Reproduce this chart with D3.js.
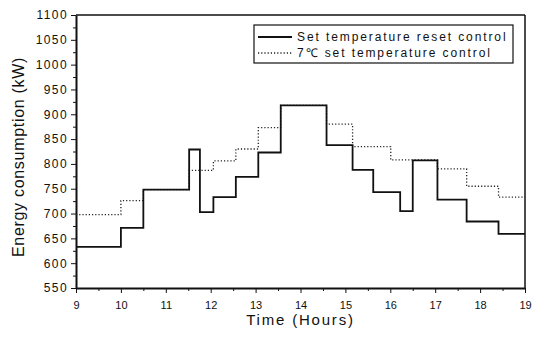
<!DOCTYPE html>
<html>
<head>
<meta charset="utf-8">
<script src="https://cdn.jsdelivr.net/npm/d3@7"></script>
<style>
  body { margin: 0; background: #fff; }
  svg { display: block; font-family: "Liberation Sans", Arial, Helvetica, sans-serif; }
  .axis path, .axis line { stroke: #111; }
</style>
</head>
<body>
<div id="chart"></div>
<script>
// step change times (hours) and the level that starts at each time
var resetTimes  = [9, 10, 10.5, 11.52, 11.76, 12.06, 12.56, 13.06, 13.56, 14.58, 15.16, 15.62, 16.22, 16.5, 17.05, 17.7, 18.41, 19];
var resetValues = [633, 671, 748, 829, 703, 733, 774, 823, 918, 838, 788, 743, 705, 807, 728, 684, 659, 659];

var fixedTimes  = [9, 10, 10.5, 11.52, 12.06, 12.56, 13.06, 13.56, 14.58, 15.16, 16.01, 17.05, 17.7, 18.41, 19];
var fixedValues = [698, 726, 748, 787, 806, 830, 873, 918, 880, 835, 808, 790, 755, 733, 733];

var xTicks = [9, 10, 11, 12, 13, 14, 15, 16, 17, 18, 19];
var yTicks = [550, 600, 650, 700, 750, 800, 850, 900, 950, 1000, 1050, 1100];
var seriesNames = ["Set temperature reset control", "7\u2103 set temperature control"];

var W = 540, H = 339;
var margin = { left: 76, right: 15, top: 15, bottom: 51 };
var width = W - margin.left - margin.right;
var height = H - margin.top - margin.bottom;

var svg = d3.select("#chart")
    .append("svg")
    .attr("width", W)
    .attr("height", H);

var g = svg.append("g")
    .attr("transform", "translate(" + margin.left + "," + margin.top + ")");

var x = d3.scaleLinear().domain([9, 19]).range([0, width]);
var y = d3.scaleLinear().domain([550, 1100]).range([height, 0]);

// minor ticks first (no labels)
var xMinor = d3.range(9.5, 19, 1);
var yMinor = d3.range(575, 1100, 50);

g.append("g")
    .attr("class", "axis")
    .attr("transform", "translate(0," + height + ")")
    .call(d3.axisBottom(x).tickValues(xMinor).tickSize(3).tickFormat(""))
    .select(".domain").remove();

g.append("g")
    .attr("class", "axis")
    .call(d3.axisLeft(y).tickValues(yMinor).tickSize(3).tickFormat(""))
    .select(".domain").remove();

// x axis
var xAxis = g.append("g")
    .attr("class", "axis")
    .attr("transform", "translate(0," + height + ")")
    .call(d3.axisBottom(x).tickValues(xTicks).tickSize(5).tickPadding(8).tickSizeOuter(0));
xAxis.select(".domain").attr("stroke-width", 2);
xAxis.selectAll("text")
    .attr("font-size", "11px")
    .attr("fill", "#111");

// y axis
var yAxis = g.append("g")
    .attr("class", "axis")
    .call(d3.axisLeft(y).tickValues(yTicks).tickSize(5).tickPadding(3)
        .tickSizeOuter(0).tickFormat(d3.format("d")));
yAxis.select(".domain").attr("stroke-width", 2);
yAxis.selectAll("text")
    .attr("font-size", "12px")
    .attr("letter-spacing", "1.4px")
    .attr("fill", "#111");

// top and right frame
g.append("line")
    .attr("x1", 0).attr("x2", width)
    .attr("y1", 0).attr("y2", 0)
    .attr("stroke", "#111").attr("stroke-width", 1.5);
g.append("line")
    .attr("x1", width).attr("x2", width)
    .attr("y1", 0).attr("y2", height)
    .attr("stroke", "#111").attr("stroke-width", 1.5);

// step lines
var line = d3.line()
    .x(function(d) { return x(d[0]); })
    .y(function(d) { return y(d[1]); })
    .curve(d3.curveStepAfter);

var fixedData = d3.zip(fixedTimes, fixedValues);
var resetData = d3.zip(resetTimes, resetValues);

g.append("path")
    .datum(fixedData)
    .attr("d", line)
    .attr("fill", "none")
    .attr("stroke", "#222")
    .attr("stroke-width", 1.3)
    .attr("stroke-dasharray", "1.2,2");

g.append("path")
    .datum(resetData)
    .attr("d", line)
    .attr("fill", "none")
    .attr("stroke", "#111")
    .attr("stroke-width", 1.8);

// legend
var legend = svg.append("g").attr("transform", "translate(254,25)");
legend.append("rect")
    .attr("width", 259).attr("height", 38)
    .attr("fill", "#fff")
    .attr("stroke", "#111").attr("stroke-width", 1.2);

legend.append("line")
    .attr("x1", 4).attr("x2", 38).attr("y1", 12).attr("y2", 12)
    .attr("stroke", "#111").attr("stroke-width", 1.8);
legend.append("line")
    .attr("x1", 4).attr("x2", 38).attr("y1", 28).attr("y2", 28)
    .attr("stroke", "#222").attr("stroke-width", 1.3)
    .attr("stroke-dasharray", "1.2,2");

legend.selectAll("text.lab")
    .data(seriesNames)
    .enter()
    .append("text")
    .attr("class", "lab")
    .attr("x", 43)
    .attr("y", function(d, i) { return 16 + i * 16; })
    .attr("font-size", "12px")
    .attr("letter-spacing", "1.9px")
    .attr("fill", "#111")
    .text(function(d) { return d; });

// axis titles
svg.append("text")
    .attr("x", margin.left + width / 2)
    .attr("y", 325)
    .attr("text-anchor", "middle")
    .attr("font-size", "15px")
    .attr("letter-spacing", "1.8px")
    .attr("fill", "#111")
    .text("Time (Hours)");

svg.append("text")
    .attr("transform", "translate(24," + 157 + ") rotate(-90)")
    .attr("text-anchor", "middle")
    .attr("font-size", "16px")
    .attr("letter-spacing", "0.7px")
    .attr("fill", "#111")
    .text("Energy consumption (kW)");
</script>
</body>
</html>
